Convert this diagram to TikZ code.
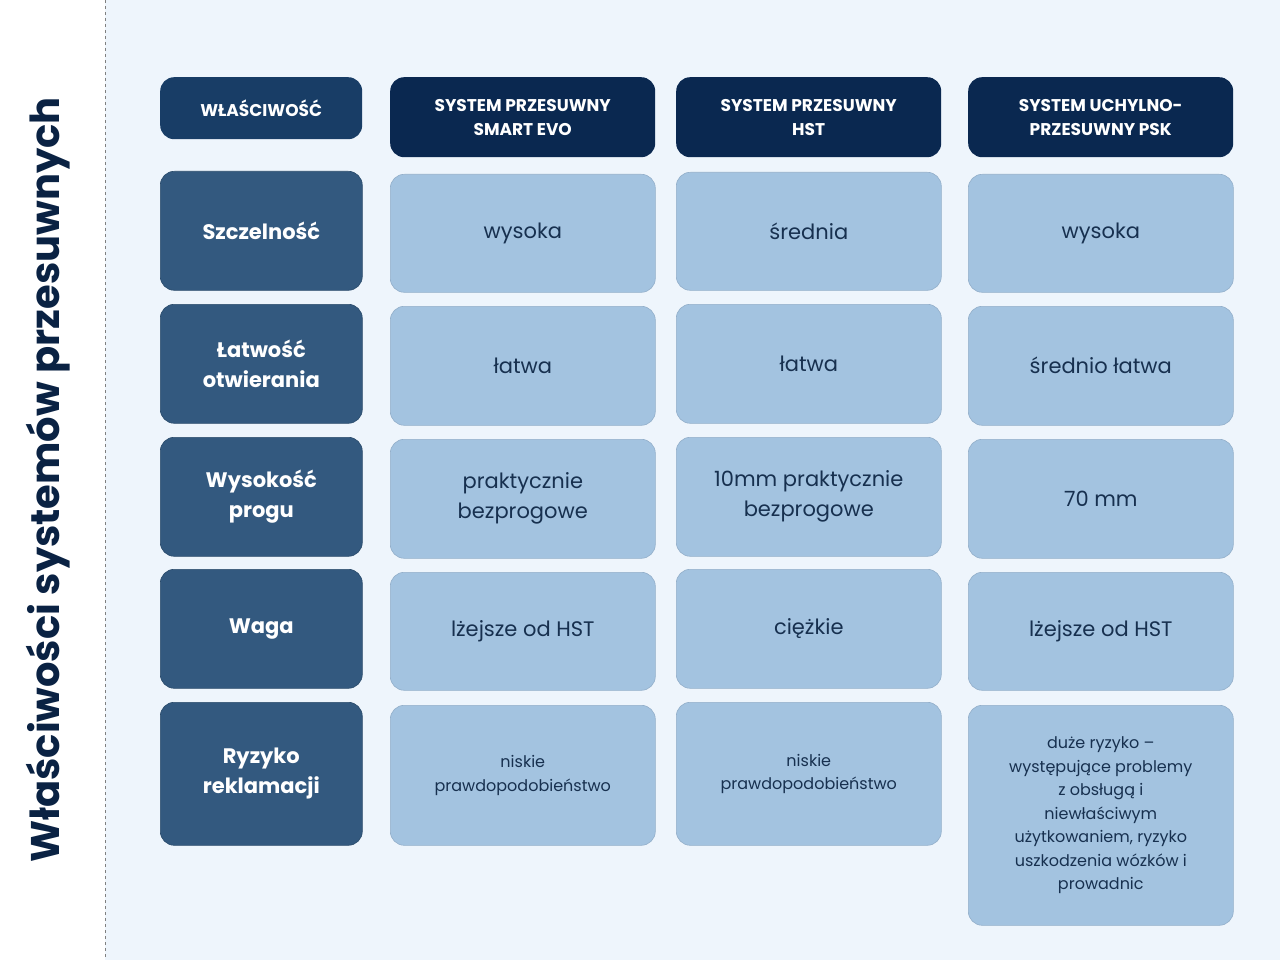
\documentclass[tikz,border=0pt]{standalone}
\usepackage{fontspec}
\setmainfont{Poppins}
\begin{document}
\begin{tikzpicture}[x=1pt,y=-1pt,
 base/.style={rounded corners=14pt,align=center,inner sep=0pt,anchor=north west},
 head/.style={base,fill=hd,text=white,font=\fontsize{17}{24}\selectfont\bfseries},
 prop/.style={base,fill=pc,draw=pc!85!black,line width=0.6pt,text=white,font=\fontsize{21}{30}\selectfont\bfseries},
 val/.style={base,fill=vc,draw=vc!90!black,line width=0.6pt,text=tx,font=\fontsize{21}{30}\selectfont},
 sval/.style={base,fill=vc,draw=vc!90!black,line width=0.6pt,text=tx,font=\fontsize{16}{23.5}\selectfont}]
\definecolor{bg}{HTML}{EEF5FC}
\definecolor{hd}{HTML}{0A2850}
\definecolor{h0}{HTML}{183D66}
\definecolor{pc}{HTML}{33597F}
\definecolor{vc}{HTML}{A3C3E0}
\definecolor{tx}{HTML}{17304F}
\definecolor{tt}{HTML}{0A2243}
\useasboundingbox (0,0) rectangle (1280,960);
\fill[white] (0,0) rectangle (1280,960);
\fill[bg] (105,0) rectangle (1280,960);
\draw[dashed,gray,line width=0.8pt] (105,0) -- (105,960);
\node[rotate=90,text=tt,font=\fontsize{40}{40}\selectfont\bfseries] (title) at (48,480) {Właściwości systemów przesuwnych};
\newcommand\bx[7]{\node[#6,minimum width=#4-#2,minimum height=#5-#3] (#1) at (#2,#3) {#7};}
\bx{h0}{160}{77}{362}{139}{head,fill=h0}{WŁAŚCIWOŚĆ}
\bx{h1}{390}{77}{655}{157}{head}{SYSTEM PRZESUWNY\\SMART EVO}
\bx{h2}{676}{77}{941}{157}{head}{SYSTEM PRZESUWNY\\HST}
\bx{h3}{968}{77}{1233}{157}{head}{SYSTEM UCHYLNO-\\PRZESUWNY PSK}
\bx{p1}{160}{171}{362}{290}{prop}{Szczelność}
\bx{a1}{390}{174}{655}{292}{val}{wysoka}
\bx{b1}{676}{172}{941}{290}{val}{średnia}
\bx{c1}{968}{174}{1233}{292}{val}{wysoka}
\bx{p2}{160}{304}{362}{423}{prop}{Łatwość\\otwierania}
\bx{a2}{390}{306}{655}{425}{val}{łatwa}
\bx{b2}{676}{304}{941}{423}{val}{łatwa}
\bx{c2}{968}{306}{1233}{425}{val}{średnio łatwa}
\bx{p3}{160}{437}{362}{556}{prop}{Wysokość\\progu}
\bx{a3}{390}{439}{655}{558}{val}{praktycznie\\bezprogowe}
\bx{b3}{676}{437}{941}{556}{val}{10mm praktycznie\\bezprogowe}
\bx{c3}{968}{439}{1233}{558}{val}{70 mm}
\bx{p4}{160}{569}{362}{688}{prop}{Waga}
\bx{a4}{390}{572}{655}{690}{val}{lżejsze od HST}
\bx{b4}{676}{569}{941}{688}{val}{ciężkie}
\bx{c4}{968}{572}{1233}{690}{val}{lżejsze od HST}
\bx{p5}{160}{702}{362}{845}{prop}{Ryzyko\\reklamacji}
\bx{a5}{390}{705}{655}{845}{sval}{niskie\\prawdopodobieństwo}
\bx{b5}{676}{702}{941}{845}{sval}{niskie\\prawdopodobieństwo}
\bx{c5}{968}{705}{1233}{925}{sval}{duże ryzyko –\\występujące problemy\\z obsługą i\\niewłaściwym\\użytkowaniem, ryzyko\\uszkodzenia wózków i\\prowadnic}
\end{tikzpicture}
\end{document}
